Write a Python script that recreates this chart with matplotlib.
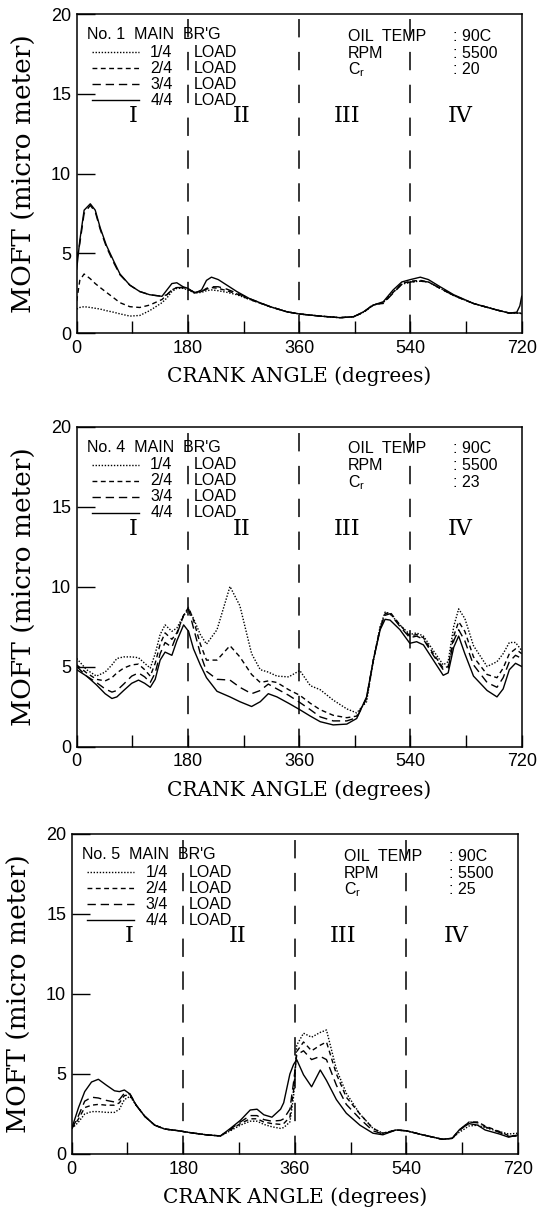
import matplotlib
matplotlib.use("Agg")
import matplotlib.pyplot as plt
from matplotlib.ticker import MultipleLocator

# ---- data (crank angle in degrees, MOFT in micro meter) ----
ang1 = [0, 5, 12, 22, 30, 38, 48, 60, 70, 86, 102, 118, 138, 146, 154, 162, 172, 180, 191, 202,
        210, 218, 229, 243, 259, 280, 313, 340, 361, 394, 426, 448, 464, 480, 496, 512, 526, 540, 556, 569,
        588, 610, 642, 680, 700, 712, 717, 720]
p1_q1 = [1.5, 1.6, 1.65, 1.6, 1.55, 1.5, 1.4, 1.3, 1.2, 1.06, 1.1, 1.4, 1.9, 2.2, 2.6, 2.8, 2.8, 2.7, 2.5, 2.55,
         2.65, 2.7, 2.65, 2.55, 2.4, 2.1, 1.65, 1.33, 1.19, 1.06, 0.96, 1.02, 1.3, 1.75, 1.9, 2.55, 3.05, 3.2, 3.25, 3.2,
         2.8, 2.35, 1.85, 1.44, 1.25, 1.25, 1.25, 1.2]
p1_q2 = [2.0, 3.3, 3.7, 3.4, 3.1, 2.85, 2.55, 2.2, 1.9, 1.65, 1.6, 1.75, 2.1, 2.4, 2.7, 2.85, 2.85, 2.75, 2.55, 2.6,
         2.75, 2.85, 2.8, 2.65, 2.45, 2.1, 1.65, 1.33, 1.19, 1.06, 0.96, 1.02, 1.3, 1.75, 1.9, 2.55, 3.1, 3.25, 3.3, 3.2,
         2.8, 2.35, 1.85, 1.44, 1.25, 1.25, 1.25, 1.2]
p1_q3 = [4.6, 5.6, 7.5, 8.0, 7.6, 6.5, 5.4, 4.4, 3.65, 3.0, 2.6, 2.4, 2.3, 2.4, 2.7, 2.85, 2.85, 2.75, 2.55, 2.6,
         2.8, 2.9, 2.9, 2.75, 2.5, 2.15, 1.65, 1.33, 1.19, 1.06, 0.96, 1.02, 1.3, 1.8, 1.85, 2.5, 3.05, 3.2, 3.25, 3.2,
         2.8, 2.35, 1.85, 1.44, 1.25, 1.25, 1.25, 1.2]
p1_q4 = [4.0, 5.8, 7.7, 8.1, 7.7, 6.6, 5.5, 4.5, 3.7, 3.0, 2.6, 2.4, 2.3, 2.7, 3.1, 3.15, 2.9, 2.8, 2.5, 2.7,
         3.3, 3.5, 3.35, 3.0, 2.6, 2.15, 1.65, 1.33, 1.19, 1.06, 0.96, 1.02, 1.33, 1.75, 1.96, 2.7, 3.2, 3.35, 3.5, 3.35,
         2.9, 2.4, 1.85, 1.44, 1.25, 1.3, 1.7, 2.3]

ang2 = [0, 16, 32, 46, 57, 65, 76, 89, 100, 110, 119, 127, 135, 143, 154, 162, 173, 181, 189, 200,
        210, 227, 248, 264, 283, 297, 310, 324, 343, 361, 378, 394, 415, 437, 453, 469, 480, 491, 499, 507,
        523, 539, 550, 561, 577, 593, 601, 610, 618, 628, 642, 664, 680, 690, 700, 710, 720]
p2_q1 = [5.5, 4.8, 4.4, 4.65, 5.1, 5.5, 5.6, 5.6, 5.55, 5.2, 4.9, 5.8, 7.0, 7.6, 7.2, 7.4, 8.2, 8.55, 8.0, 7.0,
         6.4, 7.3, 10.0, 8.8, 5.8, 4.8, 4.65, 4.4, 4.35, 4.75, 3.8, 3.55, 2.9, 2.35, 2.1, 2.8, 5.4, 7.5, 8.4, 8.3,
         7.6, 7.0, 7.1, 6.9, 6.0, 5.1, 5.3, 7.5, 8.6, 8.0, 6.3, 5.0, 5.3, 5.8, 6.5, 6.5, 6.0]
p2_q2 = [5.1, 4.6, 4.2, 4.1, 4.3, 4.6, 4.9, 5.1, 5.15, 4.8, 4.4, 5.2, 6.4, 7.1, 6.7, 7.1, 8.2, 8.7, 7.9, 6.4,
         5.4, 5.4, 6.3, 5.6, 4.5, 4.0, 4.1, 4.0, 3.55, 3.2, 2.7, 2.3, 1.95, 1.8, 1.9, 3.0, 5.4, 7.4, 8.3, 8.4,
         7.6, 6.9, 7.0, 6.8, 5.8, 4.9, 5.0, 6.9, 7.8, 7.2, 5.6, 4.5, 4.3, 4.9, 5.8, 6.1, 5.8]
p2_q3 = [5.0, 4.4, 4.0, 3.6, 3.4, 3.5, 3.9, 4.4, 4.6, 4.35, 4.0, 4.6, 5.8, 6.5, 6.2, 7.0, 8.2, 8.6, 7.4, 5.8,
         4.7, 4.2, 4.15, 3.7, 3.3, 3.5, 3.9, 3.6, 3.2, 2.75, 2.3, 1.85, 1.6, 1.6, 1.8, 3.0, 5.4, 7.4, 8.2, 8.3,
         7.5, 6.8, 6.9, 6.7, 5.7, 4.8, 4.9, 6.6, 7.3, 6.6, 5.1, 4.0, 3.7, 4.3, 5.3, 5.7, 5.5]
p2_q4 = [4.8, 4.4, 3.85, 3.3, 3.0, 3.1, 3.5, 3.95, 4.15, 3.95, 3.7, 4.2, 5.4, 5.9, 5.7, 6.6, 7.6, 7.2, 6.1, 5.1,
         4.3, 3.45, 3.1, 2.8, 2.5, 2.8, 3.3, 3.1, 2.7, 2.3, 1.9, 1.55, 1.35, 1.4, 1.75, 3.1, 5.4, 7.3, 7.95, 7.9,
         7.3, 6.45, 6.55, 6.35, 5.4, 4.45, 4.6, 6.2, 6.9, 5.8, 4.4, 3.5, 3.1, 3.6, 4.8, 5.2, 5.0]

ang3 = [0, 6, 11, 21, 32, 43, 56, 69, 77, 85, 94, 104, 118, 134, 150, 171, 192, 219, 240, 256,
        272, 288, 299, 310, 323, 337, 342, 352, 358, 363, 374, 387, 401, 411, 427, 443, 465, 486, 502, 523,
        540, 566, 598, 614, 625, 641, 655, 667, 690, 705, 720]
p3_q1 = [1.6, 1.8, 2.0, 2.5, 2.65, 2.65, 2.6, 2.6, 2.8, 3.4, 3.6, 3.05, 2.35, 1.8, 1.56, 1.46, 1.33, 1.19, 1.13, 1.45,
         1.8, 2.05, 2.05, 1.85, 1.7, 1.6, 1.65, 2.0, 3.6, 6.8, 7.55, 7.3, 7.6, 7.75, 5.3, 3.8, 2.5, 1.6, 1.3, 1.5,
         1.45, 1.2, 0.92, 0.98, 1.35, 1.75, 1.8, 1.65, 1.4, 1.25, 1.3]
p3_q2 = [1.6, 1.9, 2.2, 2.9, 3.05, 3.1, 3.05, 3.05, 3.2, 3.65, 3.7, 3.05, 2.35, 1.8, 1.56, 1.46, 1.33, 1.19, 1.13, 1.5,
         1.9, 2.2, 2.2, 2.0, 1.9, 1.85, 1.9, 2.3, 4.0, 6.4, 7.0, 6.45, 6.8, 7.0, 5.0, 3.55, 2.5, 1.6, 1.3, 1.5,
         1.45, 1.2, 0.92, 0.98, 1.45, 2.0, 2.0, 1.75, 1.4, 1.15, 1.1]
p3_q3 = [1.6, 2.0, 2.4, 3.3, 3.55, 3.5, 3.35, 3.25, 3.4, 3.8, 3.75, 3.05, 2.35, 1.8, 1.56, 1.46, 1.33, 1.19, 1.13, 1.55,
         2.0, 2.4, 2.4, 2.15, 2.05, 2.1, 2.2, 2.8, 4.5, 6.2, 6.45, 5.9, 6.1, 5.9, 4.3, 3.1, 2.2, 1.45, 1.25, 1.5,
         1.45, 1.2, 0.92, 0.98, 1.5, 2.0, 1.95, 1.7, 1.35, 1.1, 1.15]
p3_q4 = [1.6, 2.3, 2.9, 3.9, 4.5, 4.67, 4.3, 3.95, 3.9, 4.0, 3.75, 3.05, 2.35, 1.8, 1.56, 1.46, 1.33, 1.19, 1.13, 1.6,
         2.1, 2.75, 2.8, 2.45, 2.3, 2.8, 3.2, 5.0, 5.6, 5.9, 4.95, 4.2, 5.25, 4.6, 3.4, 2.55, 1.8, 1.3, 1.2, 1.5,
         1.45, 1.2, 0.92, 0.98, 1.5, 1.9, 1.8, 1.5, 1.25, 1.05, 1.2]

load_labels = ["1/4", "2/4", "3/4", "4/4"]
bearings = ["1", "4", "5"]
clearances = ["20", "23", "25"]
regions = ["I", "II", "III", "IV"]
oil_info = [("OIL  TEMP", ": 90C"), ("RPM", ": 5500")]

styles = [(0, (1.0, 1.2)), (0, (3.5, 2.5)), (0, (6, 3.5)), "-"]

SANS = "Liberation Sans"
SERIF = "DejaVu Serif"
LABEL = "DejaVu Serif"
FS = 11.5

fig = plt.figure(figsize=(5.46, 12.10), dpi=100)
W, H = 546.0, 1210.0
# axes boxes in pixels: left, right, top, bottom
boxes = [(76.7, 521.7, 14, 333), (76.7, 521.7, 426.5, 746.5), (71.7, 518, 834, 1154)]

panels = [
    (ang1, [p1_q1, p1_q2, p1_q3, p1_q4]),
    (ang2, [p2_q1, p2_q2, p2_q3, p2_q4]),
    (ang3, [p3_q1, p3_q2, p3_q3, p3_q4]),
]

for k, (ang, series) in enumerate(panels):
    l, r, t, b = boxes[k]
    ax = fig.add_axes([l / W, 1 - b / H, (r - l) / W, (b - t) / H])
    ax.set_xlim(0, 720)
    ax.set_ylim(0, 20)

    for vals, ls in zip(series, styles):
        ax.plot(ang, vals, color="black", lw=1.0, ls=ls)

    for xv in (180, 360, 540):
        ax.axvline(xv, color="black", lw=1.1, ls=(0, (12, 9.5)))

    ax.xaxis.set_major_locator(MultipleLocator(180))
    ax.xaxis.set_minor_locator(MultipleLocator(90))
    ax.yaxis.set_major_locator(MultipleLocator(5))
    ax.tick_params(axis="x", which="both", direction="in", length=8.5, width=1.0,
                   labelsize=13, pad=5, top=False)
    ax.tick_params(axis="y", direction="in", length=13, width=1.0, labelsize=13, pad=4,
                   right=False)
    for lab in ax.get_xticklabels() + ax.get_yticklabels():
        lab.set_family(SANS)
    for sp in ax.spines.values():
        sp.set_linewidth(1.1)

    ax.text(-0.118, 0.5, "MOFT (micro meter)", transform=ax.transAxes, rotation=90,
            ha="center", va="center", fontsize=19, family=LABEL)
    ax.text(0.5, -0.135, "CRANK ANGLE (degrees)", transform=ax.transAxes,
            ha="center", va="center", fontsize=14.5, family=LABEL)

    # legend block
    ax.text(16, 18.7, "No. " + bearings[k] + "  MAIN  BR'G", fontsize=FS, family=SANS,
            ha="left", va="center")
    for i, lab in enumerate(load_labels):
        yy = 17.6 - 1.0 * i
        ax.plot([24, 100], [yy, yy], color="black", lw=1.0, ls=styles[i])
        ax.text(119, yy, lab, fontsize=FS, family=SANS, ha="left", va="center")
        ax.text(189, yy, "LOAD", fontsize=FS, family=SANS, ha="left", va="center")

    # operating condition block
    for i, (name, val) in enumerate(oil_info):
        yy = 18.6 - 1.05 * i
        ax.text(439, yy, name, fontsize=FS, family=SANS, ha="left", va="center")
        ax.text(609, yy, val, fontsize=FS, family=SANS, ha="left", va="center")
    ax.text(439, 16.5, r"$\mathregular{C_r}$", fontsize=FS, family=SANS, ha="left", va="center")
    ax.text(609, 16.5, ": " + clearances[k], fontsize=FS, family=SANS, ha="left", va="center")

    for xr, name in zip((92, 267, 438, 620), regions):
        ax.text(xr, 13.6, name, fontsize=16, family=SERIF, ha="center", va="center")

fig.savefig("out.png", dpi=100)
